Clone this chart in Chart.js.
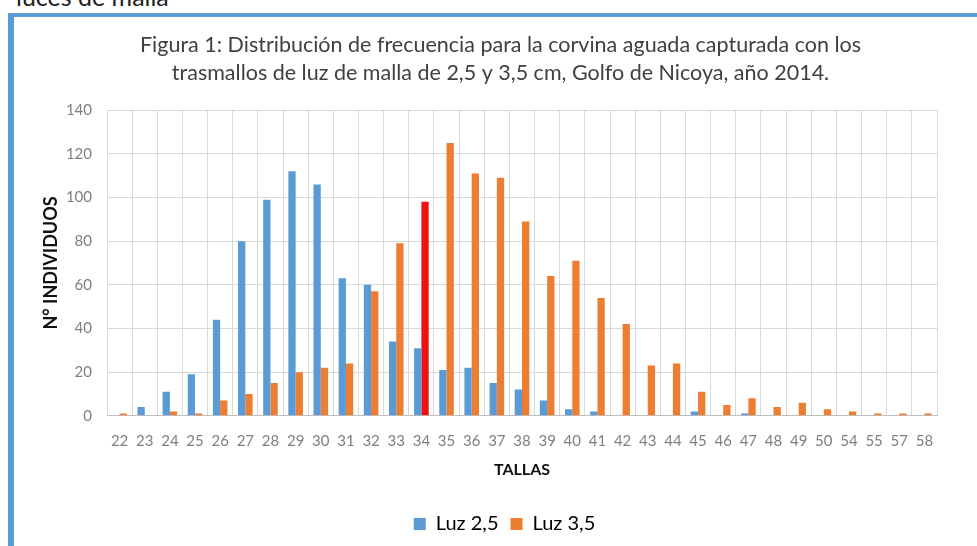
<!DOCTYPE html>
<html>
<head>
<meta charset="utf-8">
<script src="https://cdn.jsdelivr.net/npm/chart.js@4"></script>
<style>
    body { margin: 0; background: #fff; width: 977px; height: 546px; overflow: hidden; position: relative; font-family: Lato, "Open Sans", sans-serif; }
    #top-text { position: absolute; left: 16px; top: -19px; font-size: 25px; color: #222; }
    #frame { position: absolute; left: 8px; top: 13px; right: 0; bottom: 0; border-left: 6px solid #5b9bd5; border-top: 4px solid #5b9bd5; background: #fff; }
    #chart-box { position: absolute; left: 0; top: 0; width: 963px; height: 529px; }
</style>
</head>
<body>
<div id="top-text">luces de malla</div>
<div id="frame">
    <div id="chart-box"><canvas id="talla-chart" width="963" height="529"></canvas></div>
</div>
<script>
const tallas = ['22','23','24','25','26','27','28','29','30','31','32','33','34','35','36','37','38','39','40','41','42','43','44','45','46','47','48','49','50','54','55','57','58'];
const luz25 = [0, 4, 11, 19, 44, 80, 99, 112, 106, 63, 60, 34, 31, 21, 22, 15, 12, 7, 3, 2, 0, 0, 0, 2, 0, 1, 0, 0, 0, 0, 0, 0, 0];
const luz35 = [1, 0, 2, 1, 7, 10, 15, 20, 22, 24, 57, 79, 98, 125, 111, 109, 89, 64, 71, 54, 42, 23, 24, 11, 5, 8, 4, 6, 3, 2, 1, 1, 1];
const tallaDestacada = '34';

const azul = '#5b9bd5';
const naranja = '#ed7d31';
const rojo = '#ee1111';
const gris = '#7f7f7f';
const rejilla = '#d9d9d9';

const coloresNaranja = tallas.map(t => t === tallaDestacada ? rojo : naranja);

// el titulo y la leyenda del original no quedan centrados sobre el area del grafico
const desplazar = {
    id: 'desplazar',
    afterLayout(chart) {
        chart.titleBlock.left += 12;
        chart.titleBlock.right += 12;
        chart.legend.left += 16;
        chart.legend.right += 16;
    }
};

const ctx = document.getElementById("talla-chart").getContext("2d");
window.tallaChart = new Chart(ctx, {
    type: 'bar',
    data: {
        labels: tallas,
        datasets: [
            { label: 'Luz 2,5', data: luz25, backgroundColor: azul },
            { label: 'Luz 3,5', data: luz35, backgroundColor: coloresNaranja }
        ]
    },
    options: {
        responsive: false,
        animation: false,
        datasets: { bar: { categoryPercentage: 0.58, barPercentage: 1.0 } },
        layout: { padding: { left: 26, right: 40, top: 0, bottom: 2 } },
        plugins: {
            title: {
                display: true,
                text: ['Figura 1: Distribución de frecuencia para la corvina aguada capturada con los',
                       'trasmallos de luz de malla de 2,5 y 3,5 cm, Golfo de Nicoya, año 2014.'],
                color: '#404040',
                font: { family: 'Lato', size: 21.5, weight: 'normal', lineHeight: 1.26 },
                padding: { top: 15, bottom: 24 }
            },
            legend: {
                position: 'bottom',
                labels: {
                    color: '#404040',
                    font: { family: 'Lato', size: 20 },
                    boxWidth: 12,
                    boxHeight: 12,
                    padding: 12,
                    generateLabels: chart => chart.data.datasets.map((ds, i) => ({
                        text: ds.label,
                        fillStyle: i === 0 ? azul : naranja,
                        strokeStyle: 'transparent',
                        lineWidth: 0,
                        datasetIndex: i
                    }))
                }
            },
            tooltip: { enabled: false }
        },
        scales: {
            x: {
                grid: { color: rejilla, offset: true, drawTicks: false },
                border: { color: '#bfbfbf' },
                ticks: { color: gris, font: { family: 'Lato', size: 15 }, autoSkip: false, maxRotation: 0, padding: 16 },
                title: { display: true, text: 'TALLAS', color: '#111', font: { family: 'Lato', size: 16, weight: 'bold' }, padding: { top: -6, bottom: 23 } }
            },
            y: {
                min: 0,
                max: 140,
                grid: { color: rejilla, drawTicks: false },
                border: { display: false },
                ticks: { stepSize: 20, color: gris, font: { family: 'Lato', size: 15 }, padding: 15 },
                title: { display: true, text: 'N° INDIVIDUOS', color: '#111', font: { family: 'Lato', size: 18, weight: 'bold' }, padding: 0 },
                afterFit: scale => { scale.width = 67; }
            }
        }
    },
    plugins: [desplazar]
});
</script>
</body>
</html>
